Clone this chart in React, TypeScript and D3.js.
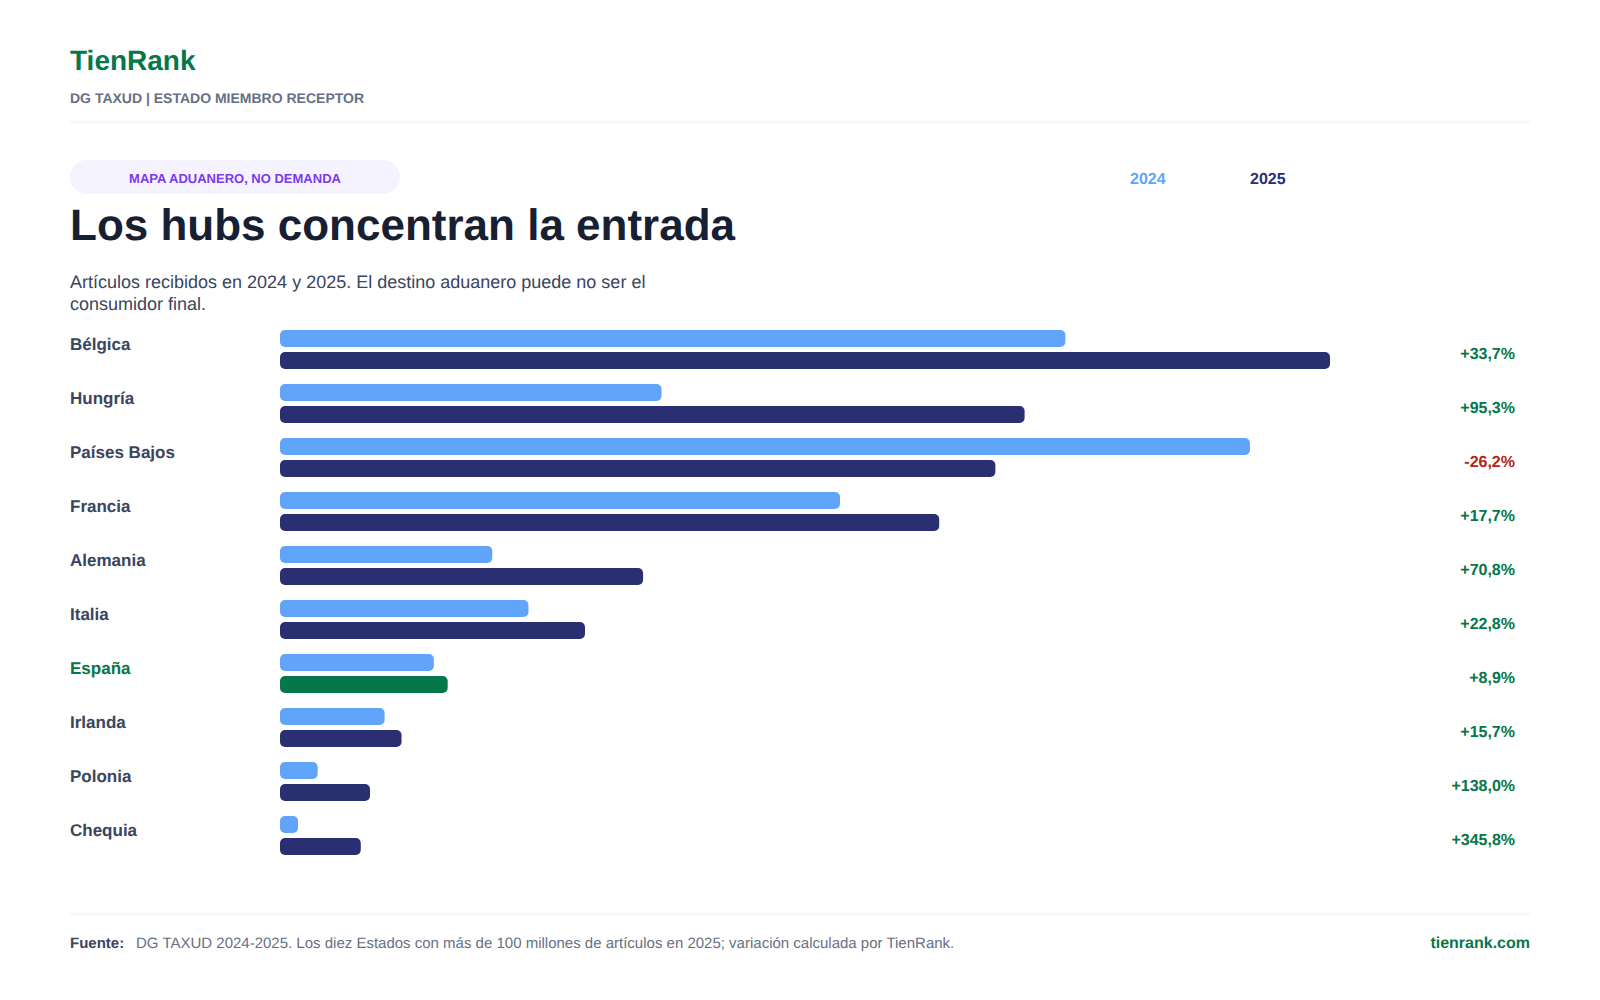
import * as d3 from 'd3';

const countries = ['Bélgica', 'Hungría', 'Países Bajos', 'Francia', 'Alemania', 'Italia', 'España', 'Irlanda', 'Polonia', 'Chequia'];
const values2024 = [1021, 496, 1261, 728, 276, 323, 200, 136, 49, 23.5];
const values2025 = [1365, 968, 930, 857, 472, 396.5, 218, 158, 117, 105];
const deltas = ['+33,7%', '+95,3%', '-26,2%', '+17,7%', '+70,8%', '+22,8%', '+8,9%', '+15,7%', '+138,0%', '+345,8%'];
const highlight = 'España';

const GREEN = '#06774a';
const BLUE = '#60a5fa';
const NAVY = '#2a2f72';
const SLATE = '#3a4560';
const GREY = '#667085';
const RULE = '#f2f4f7';
const FONT = '"Liberation Sans", Arial, sans-serif';

const x = d3.scaleLinear().domain([0, d3.max(values2025) as number]).range([280, 1330]);
const y = d3.scaleBand<string>().domain(countries).range([330, 870]).paddingInner(0).paddingOuter(0);

export default function App() {
  return (
    <svg
      width={1600}
      height={1000}
      viewBox="0 0 1600 1000"
      textRendering="geometricPrecision"
      style={{ position: 'absolute', left: 0, top: 0, background: '#fff', fontFamily: FONT }}
    >
      <text x={70} y={70} fontSize={28} fontWeight={700} fill={GREEN}>TienRank</text>
      <text x={70} y={103} fontSize={14} fontWeight={700} fill={GREY}>DG TAXUD | ESTADO MIEMBRO RECEPTOR</text>
      <rect x={70} y={121.5} width={1460} height={1.5} fill={RULE} />

      <rect x={70} y={160} width={330} height={34} rx={17} fill="#f5f3ff" />
      <text x={235} y={183} fontSize={13} fontWeight={700} fill="#7c3aed" textAnchor="middle">MAPA ADUANERO, NO DEMANDA</text>
      <text x={1130} y={184} fontSize={16} fontWeight={700} fill={BLUE}>2024</text>
      <text x={1250} y={184} fontSize={16} fontWeight={700} fill={NAVY}>2025</text>

      <text x={70} y={240} fontSize={44} fontWeight={700} fill="#172033">Los hubs concentran la entrada</text>
      <text x={70} y={288} fontSize={18} fill={SLATE}>Artículos recibidos en 2024 y 2025. El destino aduanero puede no ser el</text>
      <text x={70} y={310} fontSize={18} fill={SLATE}>consumidor final.</text>

      {countries.map((name, i) => {
        const top = y(name) as number;
        const isHighlight = name === highlight;
        return (
          <g key={name}>
            <text x={70} y={top + 20} fontSize={17} fontWeight={700} fill={isHighlight ? GREEN : SLATE}>{name}</text>
            <rect x={x(0)} y={top} width={x(values2024[i]) - x(0)} height={17} rx={5} fill={BLUE} />
            <rect x={x(0)} y={top + 22} width={x(values2025[i]) - x(0)} height={17} rx={5} fill={isHighlight ? GREEN : NAVY} />
            <text
              x={1515}
              y={top + 29}
              fontSize={16}
              fontWeight={700}
              textAnchor="end"
              fill={deltas[i].startsWith('-') ? '#b42318' : GREEN}
            >
              {deltas[i]}
            </text>
          </g>
        );
      })}

      <rect x={70} y={913.5} width={1460} height={1.5} fill={RULE} />
      <text x={70} y={948} fontSize={15} fontWeight={700} fill={SLATE}>Fuente:</text>
      <text x={136} y={948} fontSize={15} fill={GREY}>DG TAXUD 2024-2025. Los diez Estados con más de 100 millones de artículos en 2025; variación calculada por TienRank.</text>
      <text x={1530} y={948} fontSize={16} fontWeight={700} fill={GREEN} textAnchor="end">tienrank.com</text>
    </svg>
  );
}
